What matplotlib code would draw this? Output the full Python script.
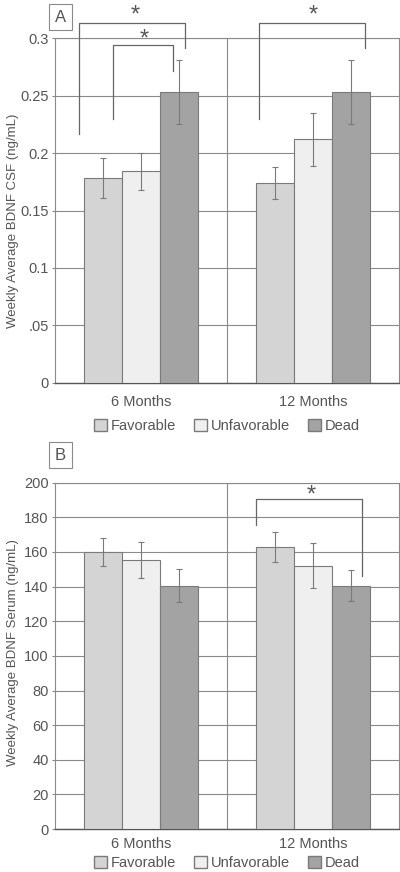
import matplotlib
matplotlib.use("Agg")
import matplotlib.pyplot as plt
from matplotlib.patches import Patch
import numpy as np

plt.rcParams['font.family'] = ['Liberation Sans', 'DejaVu Sans']

# data
periods = ["6 Months", "12 Months"]
groups = ["Favorable", "Unfavorable", "Dead"]
colors = ["#d4d4d4", "#efefef", "#a3a3a3"]

csf_mean = {"Favorable": [0.178, 0.174], "Unfavorable": [0.184, 0.212], "Dead": [0.253, 0.253]}
csf_err = {"Favorable": [0.0175, 0.014], "Unfavorable": [0.016, 0.023], "Dead": [0.028, 0.028]}
csf_ticks = [0, 0.05, 0.1, 0.15, 0.2, 0.25, 0.3]
csf_ticklabels = ["0", ".05", "0.1", "0.15", "0.2", "0.25", "0.3"]

serum_mean = {"Favorable": [160, 163], "Unfavorable": [155.5, 152], "Dead": [140.5, 140.5]}
serum_err = {"Favorable": [8.3, 8.5], "Unfavorable": [10.5, 13], "Dead": [9.5, 9.0]}
serum_ticks = [0, 20, 40, 60, 80, 100, 120, 140, 160, 180, 200]

# significance brackets: x_left, x_right, y_top, y_left_end, y_right_end, star_x, star_y
csf_brackets = [
    (-0.36, 0.256, 0.3133, 0.2165, 0.2913, -0.035, 0.3195),
    (-0.163, 0.186, 0.2939, 0.2296, 0.2713, 0.017, 0.2985),
    (0.686, 1.302, 0.3133, 0.2296, 0.2913, 1.0, 0.3195),
]
serum_brackets = [
    (0.669, 1.285, 190.6, 175.7, 146.4, 0.99, 192.5),
]

TEXT = "#555555"
LINE = "#8a8a8a"
width = 0.221
x = np.arange(len(periods))

fig = plt.figure(figsize=(4, 8.72), dpi=100)
axA = fig.add_axes([0.1375, 0.5608, 0.86, 0.3956])
axB = fig.add_axes([0.1375, 0.0493, 0.86, 0.3971])


def draw(ax, means, errs, ticks, ticklabels, ylabel, brackets, ymax, xpad, legy, laby):
    for i, g in enumerate(groups):
        ax.bar(x + (i - 1) * width, means[g], width, yerr=errs[g], color=colors[i],
               edgecolor="#7a7a7a", linewidth=0.8, zorder=3,
               error_kw=dict(ecolor="#7a7a7a", elinewidth=0.8, capsize=2.5, capthick=0.8))
    ax.set_xlim(-0.5, 1.5)
    ax.set_ylim(0, ymax)
    ax.set_yticks(ticks)
    ax.set_yticklabels(ticklabels)
    ax.set_xticks(x)
    ax.set_xticklabels(periods)
    ax.tick_params(axis="x", length=0, pad=xpad, labelsize=10.5, labelcolor=TEXT)
    ax.tick_params(axis="y", length=2.5, width=0.8, color=LINE, pad=2, labelsize=10.5, labelcolor=TEXT)
    ax.grid(axis="y", color=LINE, linewidth=0.8, zorder=0)
    ax.axvline(0.5, color=LINE, linewidth=0.8, zorder=0)
    for s in ax.spines.values():
        s.set_color(LINE)
        s.set_linewidth(0.8)
    ax.spines["bottom"].set_color("#555555")
    ax.spines["bottom"].set_linewidth(1.0)
    ax.set_ylabel(ylabel, fontsize=9.5, color=TEXT)
    ax.yaxis.set_label_coords(-0.105, laby)
    for xl, xr, yt, yl, yr, sx, sy in brackets:
        ax.plot([xl, xl, xr, xr], [yl, yt, yt, yr], color="#666666", linewidth=0.9,
                clip_on=False, zorder=4)
        ax.text(sx, sy, "*", ha="center", va="center", fontsize=17, color="#555555",
                clip_on=False)
    handles = [Patch(facecolor=colors[i], edgecolor="#7a7a7a", label=g) for i, g in enumerate(groups)]
    ax.legend(handles=handles, loc="center", bbox_to_anchor=(0.5, legy), ncol=3,
              frameon=False, fontsize=10.5, labelcolor=TEXT, handlelength=0.9, handleheight=0.9,
              handletextpad=0.25, columnspacing=1.25, borderpad=0)


draw(axA, csf_mean, csf_err, csf_ticks, csf_ticklabels,
     "Weekly Average BDNF CSF (ng/mL)", csf_brackets, 0.3, 9, -0.125, 0.47)
draw(axB, serum_mean, serum_err, serum_ticks, [str(t) for t in serum_ticks],
     "Weekly Average BDNF Serum (ng/mL)", serum_brackets, 200, 6, -0.097, 0.51)

# panel letters
for label, yy in [("A", 1 - 17 / 872), ("B", 1 - 455 / 872)]:
    fig.text(60.5 / 400, yy, label, ha="center", va="center", fontsize=12, color=TEXT,
             bbox=dict(boxstyle="square,pad=0.35", facecolor="white", edgecolor=LINE, linewidth=0.8))

fig.savefig("out.png", dpi=100)
